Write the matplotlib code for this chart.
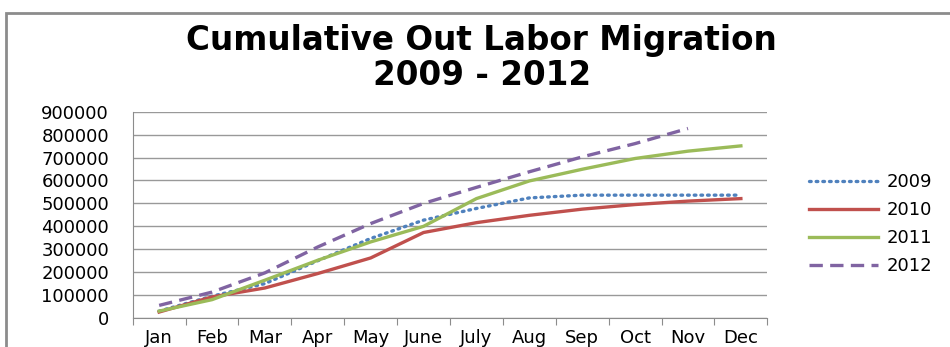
import matplotlib
matplotlib.use("Agg")
import matplotlib.pyplot as plt
from matplotlib.patches import Rectangle
import numpy as np

months = ['Jan', 'Feb', 'Mar', 'Apr', 'May', 'June', 'July', 'Aug', 'Sep', 'Oct', 'Nov', 'Dec']
y2009 = [30000, 95000, 150000, 250000, 347000, 427000, 478000, 524000, 536000, 536000, 536000, 536000]
y2010 = [26000, 92000, 131000, 194000, 262000, 373000, 416000, 448000, 475000, 495000, 510000, 521000]
y2011 = [30000, 80000, 165000, 252000, 332000, 400000, 521000, 598000, 649000, 696000, 728000, 751000]
y2012 = [55000, 113000, 197000, 310000, 412000, 500000, 570000, 638000, 703000, 761000, 827000]

fig = plt.figure(figsize=(9.5, 3.47), dpi=100)
ax = fig.add_axes([0.1397, 0.0836, 0.668, 0.5944])

# chart border (cut off at right and bottom)
fig.patches.append(Rectangle((0.006, -0.1), 1.1, 1.062, transform=fig.transFigure,
                             fill=False, edgecolor='#8c8c8c', linewidth=2))

x = np.arange(len(months))
ax.plot(x, y2009, color='#4F81BD', lw=2.4, linestyle=(0, (0.5, 1.5)), dash_capstyle='round', label='2009')
ax.plot(x, y2010, color='#C0504D', lw=2.4, label='2010')
ax.plot(x, y2011, color='#9BBB59', lw=2.4, label='2011')
ax.plot(np.arange(len(y2012)), y2012, color='#8064A2', lw=2.4, linestyle=(0, (4, 2.2)), label='2012')

ax.set_xlim(-0.5, 11.5)
ax.set_ylim(0, 900000)
ax.set_yticks(np.arange(0, 900001, 100000))
ax.set_yticklabels([str(v) for v in range(0, 900001, 100000)], fontsize=13)
ax.yaxis.grid(True, color='#999999', lw=1)
ax.set_axisbelow(True)
ax.tick_params(axis='y', length=0, pad=17)

ax.set_xticks(np.arange(-0.5, 12, 1))
ax.set_xticklabels([])
ax.set_xticks(x, minor=True)
ax.set_xticklabels(months, minor=True, fontsize=13)
ax.tick_params(axis='x', which='major', length=5, direction='out', color='#8c8c8c')
ax.tick_params(axis='x', which='minor', length=0, pad=8)

for s in ['top', 'right']:
    ax.spines[s].set_visible(False)
ax.spines['left'].set_color('#8c8c8c')
ax.spines['bottom'].set_color('#8c8c8c')

fig.text(0.507, 0.883, 'Cumulative Out Labor Migration', ha='center', va='center',
         fontsize=23.5, fontweight='bold')
fig.text(0.507, 0.783, '2009 - 2012', ha='center', va='center',
         fontsize=23.5, fontweight='bold')

ax.legend(loc='center left', bbox_to_anchor=(1.04, 0.455), frameon=False, fontsize=13,
          handlelength=3.8, labelspacing=0.55, handletextpad=0.5)

fig.savefig('out.png', dpi=100)
